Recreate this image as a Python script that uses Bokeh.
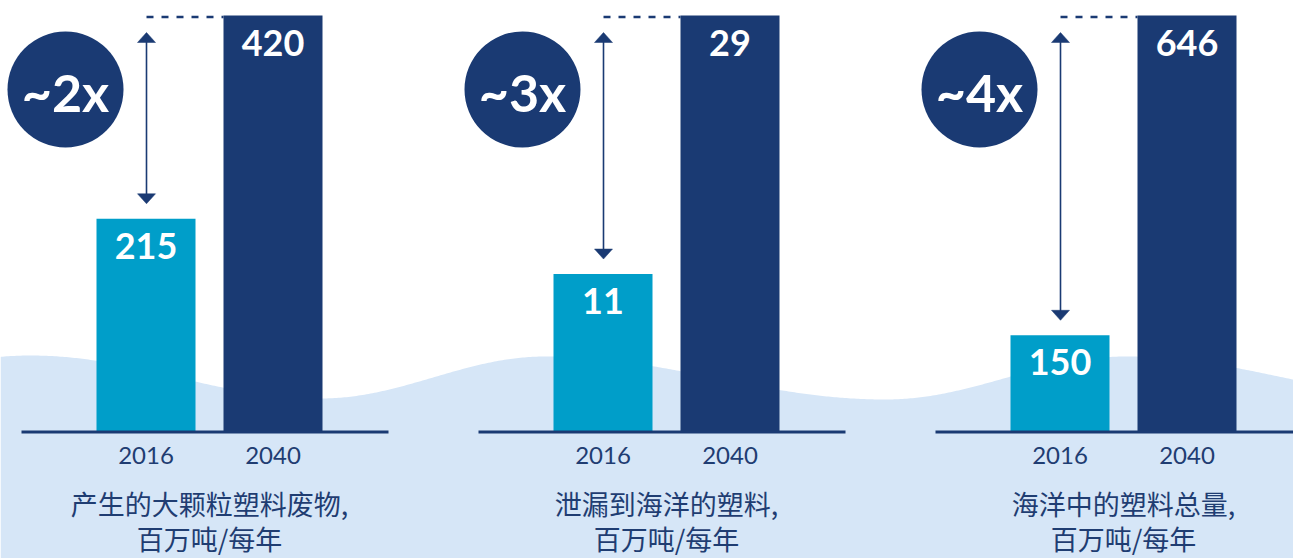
import numpy as np
from bokeh.plotting import figure
from bokeh.models import Range1d
from bokeh.core.properties import value
from bokeh.embed import file_html
from bokeh.resources import INLINE

# ---------------- data ----------------
years = ["2016", "2040"]
values_2016 = [215, 11, 150]
values_2040 = [420, 29, 646]
multipliers = ["~2x", "~3x", "~4x"]
captions_line1 = ["产生的大颗粒塑料废物,", "泄漏到海洋的塑料,", "海洋中的塑料总量,"]
captions_line2 = ["百万吨/每年", "百万吨/每年", "百万吨/每年"]

# ---------------- style / layout ----------------
NAVY = "#1a3a73"
LIGHT = "#009ec9"
WAVE = "#d6e6f7"
TEXT_NAVY = "#1f3d72"

W, H = 1293, 558                  # figure size
BASE, TOP = 431.5, 15.0           # baseline and top of tallest bar (px)
panel_off = [0, 457, 914]
bar_x = [145.5, 272.5]
bar_w = 99
arrow_x = 146
circle_x, circle_y, circle_d = 65, 89, 116
base_x0, base_x1 = 21, 388
cap_x = 209

p = figure(width=W, height=H, x_range=Range1d(0, W), y_range=Range1d(H, 0),
           output_backend="svg", toolbar_location=None, min_border=0,
           x_axis_location=None, y_axis_location=None)
p.grid.visible = False
p.outline_line_color = None
p.background_fill_color = "white"

# wave background (decoration)
wx = [-240, 30, 320, 545, 885, 1125, 1450]
wy = [399, 355, 398, 356, 399, 356, 400]
xs = np.arange(0, 1302, 2.0)
ys = []
for x in xs:
    j = np.searchsorted(wx, x) - 1
    t = (x - wx[j]) / (wx[j + 1] - wx[j])
    ys.append(wy[j] + (wy[j + 1] - wy[j]) * (1 - np.cos(np.pi * t)) / 2)
p.patch(list(xs) + [1302, 0], ys + [570, 570], fill_color=WAVE, line_color=None)

for i in range(3):
    o = panel_off[i]
    v16, v40 = values_2016[i], values_2040[i]
    k = (BASE - TOP) / v40                      # px per unit in this panel
    name = f"panel{i}"
    p.extra_y_ranges[name] = Range1d(-(H - BASE) / k, v40 + TOP / k)

    xb = [bx + o for bx in bar_x]
    p.vbar(x=xb, top=[v16, v40], bottom=0, width=bar_w, y_range_name=name,
           fill_color=[LIGHT, NAVY], line_color=None)

    # value labels
    p.text(x=xb, y=[v16, v40], text=[str(v16), str(v40)], y_range_name=name,
           y_offset=27, text_align="center", text_baseline="middle",
           text_font=value("Lato"), text_font_style="bold", text_font_size="36px",
           text_color="white")

    # dashed reference line at 2040 level
    ax = arrow_x + o
    p.segment(x0=[ax], y0=[v40 - 1.5 / k], x1=[xb[1] - bar_w / 2], y1=[v40 - 1.5 / k],
              y_range_name=name, line_color=NAVY, line_width=2.5, line_dash="7 8")

    # double arrow
    y_top = v40 - 17 / k
    y_bot = v16 + 15 / k
    p.segment(x0=[ax], y0=[y_top - 5 / k], x1=[ax], y1=[y_bot + 5 / k], y_range_name=name,
              line_color=NAVY, line_width=1.6)
    p.patches(xs=[[ax - 9, ax, ax + 9], [ax - 9, ax, ax + 9]],
              ys=[[y_top - 10 / k, y_top, y_top - 10 / k], [y_bot + 10 / k, y_bot, y_bot + 10 / k]],
              y_range_name=name, fill_color=NAVY, line_color=NAVY, line_width=0.5)

    # multiplier circle
    p.scatter(x=[circle_x + o], y=[circle_y], size=circle_d, marker="circle",
              fill_color=NAVY, line_color=None)
    p.text(x=[circle_x + o], y=[circle_y + 2], text=[multipliers[i]], text_align="center",
           text_baseline="middle", text_font=value("Lato"), text_font_style="bold",
           text_font_size="52px", text_color="white")

    # baseline
    p.segment(x0=[base_x0 + o], y0=[BASE], x1=[base_x1 + o], y1=[BASE],
              line_color=NAVY, line_width=3)

    # year labels
    p.text(x=xb, y=[455, 455], text=years, text_align="center", text_baseline="middle",
           text_font=value("Lato"), text_font_size="24px", text_color=TEXT_NAVY)

    # captions
    p.text(x=[cap_x + o, cap_x + o], y=[503, 538], text=[captions_line1[i], captions_line2[i]],
           text_align="center", text_baseline="middle",
           text_font=value("Noto Sans CJK SC"), text_font_size="27px", text_color=TEXT_NAVY)

open("out.html", "w").write(file_html(p, INLINE))
